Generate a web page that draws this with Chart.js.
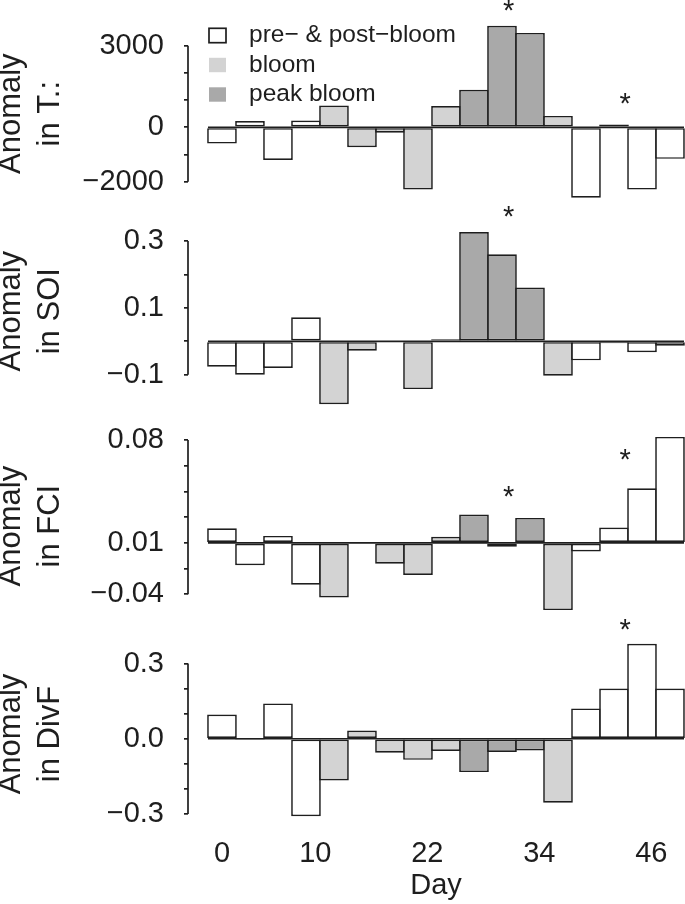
<!DOCTYPE html>
<html>
<head>
<meta charset="utf-8">
<script src="https://cdn.jsdelivr.net/npm/chart.js@4.4.1/dist/chart.umd.min.js"></script>
<style>
  body { margin: 0; background: #fff; }
  #wrap { position: relative; width: 685px; height: 904px; overflow: hidden; }
  canvas { position: absolute; left: 0; }
</style>
</head>
<body>
<div id="wrap">
  <canvas id="pT"></canvas>
  <canvas id="pSOI"></canvas>
  <canvas id="pFCI"></canvas>
  <canvas id="pDivF"></canvas>
</div>
<script>
// bars every 3 days, phase of each bar: 0 = pre/post, 1 = bloom, 2 = peak bloom
var days = [0, 3, 6, 9, 12, 15, 18, 21, 24, 27, 30, 33, 36, 39, 42, 45, 48];
var phase = [0, 0, 0, 0, 1, 1, 1, 1, 1, 2, 2, 2, 1, 0, 0, 0, 0];
var phaseNames = ['pre\u2212 & post\u2212bloom', 'bloom', 'peak bloom'];
var phaseColors = ['#ffffff', '#d3d3d3', '#a9a9a9'];

var tValues = [-600, 230, -1200, 250, 800, -730, -200, -2290, 780, 1380, 3730, 3470, 420, -2590, 100, -2290, -1160];
var soiValues = [-0.076, -0.100, -0.080, 0.072, -0.188, -0.028, 0, -0.143, 0.006, 0.327, 0.260, 0.161, -0.103, -0.057, -0.006, -0.033, -0.013];
var fciValues = [0.0114, -0.0174, 0.0054, -0.0326, -0.0425, 0, -0.0163, -0.0249, 0.0047, 0.0220, -0.0031, 0.0194, -0.0523, -0.0067, 0.0119, 0.0425, 0.0824];
var divfValues = [0.097, -0.005, 0.141, -0.309, -0.166, 0.033, -0.056, -0.084, -0.049, -0.133, -0.053, -0.047, -0.255, 0.121, 0.200, 0.379, 0.200];

// significance stars
var tStarDays = [30.7, 43.2];
var tStarValues = [4470, 1055];
var soiStarDays = [30.7];
var soiStarValues = [0.388];
var fciStarDays = [30.7, 43.2];
var fciStarValues = [0.0398, 0.0689];
var divfStarDays = [43.2];
var divfStarValues = [0.454];

// axis ticks
var dayTicks = [0, 10, 22, 34, 46];
var tTicks = [-2000, -1000, 0, 1000, 2000, 3000];
var tTickLabels = ['\u22122000', '', '0', '', '', '3000'];
var soiTicks = [-0.1, 0, 0.1, 0.2, 0.3];
var soiTickLabels = ['\u22120.1', '', '0.1', '', '0.3'];
var fciTicks = [-0.04, -0.02, 0, 0.02, 0.04, 0.06, 0.08];
var fciTickLabels = ['\u22120.04', '', '0.01', '', '', '', '0.08'];
var divfTicks = [-0.3, -0.2, -0.1, 0, 0.1, 0.2, 0.3];
var divfTickLabels = ['\u22120.3', '', '', '0.0', '', '', '0.3'];

var ink = '#1e1e1e';
Chart.defaults.font.family = "'Liberation Sans', Arial, Helvetica, sans-serif";
Chart.defaults.color = ink;

var halfBar = 1.5;

// zero line, short R-style axis line, stars
var extrasPlugin = {
  id: 'extras',
  afterDatasetsDraw: function (chart, args, opts) {
    var ctx = chart.ctx, x = chart.scales.x, y = chart.scales.y;
    ctx.save();
    ctx.strokeStyle = ink;
    ctx.lineWidth = 1.7;
    var y0 = y.getPixelForValue(0);
    ctx.beginPath();
    ctx.moveTo(x.getPixelForValue(days[0] - halfBar), y0);
    ctx.lineTo(x.getPixelForValue(days[days.length - 1] + halfBar), y0);
    ctx.stroke();

    var t = opts.ticks;
    ctx.beginPath();
    ctx.moveTo(chart.chartArea.left, y.getPixelForValue(t[0]));
    ctx.lineTo(chart.chartArea.left, y.getPixelForValue(t[t.length - 1]));
    ctx.stroke();

    ctx.fillStyle = ink;
    ctx.font = "29px 'Liberation Sans', Arial, sans-serif";
    ctx.textAlign = 'center';
    ctx.textBaseline = 'alphabetic';
    var m = ctx.measureText('*');
    var shift = (m.actualBoundingBoxAscent - m.actualBoundingBoxDescent) / 2;
    for (var i = 0; i < opts.starDays.length; i++) {
      ctx.fillText('*', x.getPixelForValue(opts.starDays[i]), y.getPixelForValue(opts.starValues[i]) + shift);
    }
    ctx.restore();
  }
};

var legendPlugin = {
  id: 'boxLegend',
  afterDraw: function (chart, args, opts) {
    if (!opts.show) return;
    var ctx = chart.ctx;
    ctx.save();
    ctx.font = "24.5px 'Liberation Sans', Arial, sans-serif";
    ctx.textBaseline = 'middle';
    ctx.textAlign = 'left';
    for (var i = 0; i < phaseNames.length; i++) {
      var cy = 35.5 + i * 29.5;
      ctx.fillStyle = phaseColors[i];
      ctx.fillRect(209, cy - 7.2, 17, 14.4);
      if (i === 0) {
        ctx.strokeStyle = ink;
        ctx.lineWidth = 1.7;
        ctx.strokeRect(209, cy - 7.2, 17, 14.4);
      }
      ctx.fillStyle = ink;
      ctx.fillText(phaseNames[i], 249, cy);
    }
    ctx.restore();
  }
};

function pickLabel(ticks, labels, v) {
  for (var i = 0; i < ticks.length; i++) {
    if (Math.abs(ticks[i] - v) < 1e-9) return labels[i];
  }
  return '';
}

function makePanel(id, p) {
  var cv = document.getElementById(id);
  cv.width = 685;
  cv.height = p.height;
  cv.style.top = p.top + 'px';

  new Chart(cv, {
    type: 'bar',
    data: {
      datasets: [{
        data: p.values.map(function (v, i) { return { x: days[i], y: v }; }),
        backgroundColor: phase.map(function (k) { return phaseColors[k]; }),
        borderColor: ink,
        borderWidth: 1.7,
        borderSkipped: false,
        barPercentage: 1.06,
        categoryPercentage: 1,
        clip: false
      }]
    },
    options: {
      responsive: false,
      animation: false,
      events: [],
      layout: { padding: { top: p.padTop, bottom: p.padBottom, left: 0, right: 1 } },
      plugins: {
        legend: { display: false },
        tooltip: { enabled: false },
        extras: { ticks: p.ticks, starDays: p.starDays, starValues: p.starValues },
        boxLegend: { show: !!p.legend }
      },
      scales: {
        x: {
          type: 'linear',
          min: -3.64,
          max: 49.5,
          offset: false,
          display: !!p.showX,
          grid: { display: false, offset: false },
          border: { display: false },
          afterBuildTicks: function (s) { s.ticks = dayTicks.map(function (v) { return { value: v }; }); },
          afterFit: function (s) {
            s.height = p.showX ? 90 : 0;
            s.paddingLeft = 0;
            s.paddingRight = 0;
          },
          ticks: {
            autoSkip: false,
            maxRotation: 0,
            padding: 14.6,
            font: { size: 29 },
            callback: function (v) { return String(v); }
          },
          title: {
            display: true,
            text: 'Day',
            font: { size: 29 },
            padding: { top: 0, bottom: 0.6 }
          }
        },
        y: {
          min: p.min,
          max: p.max,
          afterBuildTicks: function (s) { s.ticks = p.ticks.map(function (v) { return { value: v }; }); },
          afterFit: function (s) {
            s.width = 188;
            s.paddingTop = 0;
            s.paddingBottom = 0;
          },
          grid: { drawOnChartArea: false, drawTicks: true, tickLength: 4, color: ink, lineWidth: 1.7 },
          border: { display: false },
          ticks: {
            autoSkip: false,
            padding: 20,
            font: { size: 29 },
            callback: function (v) { return pickLabel(p.ticks, p.tickLabels, v); }
          },
          title: {
            display: true,
            text: ['Anomaly', p.label],
            font: { size: 31, lineHeight: 1.258 },
            padding: { top: -8.2, bottom: 0 }
          }
        }
      }
    },
    plugins: [extrasPlugin, legendPlugin]
  });
}

makePanel('pT', {
  top: 0, height: 205, padTop: 45.7, padBottom: 23.3,
  values: tValues, min: -2000, max: 3000, ticks: tTicks, tickLabels: tTickLabels,
  starDays: tStarDays, starValues: tStarValues, label: 'in T.:', legend: true
});
makePanel('pSOI', {
  top: 205, height: 210, padTop: 36, padBottom: 33.6,
  values: soiValues, min: -0.12, max: 0.3, ticks: soiTicks, tickLabels: soiTickLabels,
  starDays: soiStarDays, starValues: soiStarValues, label: 'in SOI'
});
makePanel('pFCI', {
  top: 415, height: 205, padTop: 25, padBottom: 7.7,
  values: fciValues, min: -0.054, max: 0.08, ticks: fciTicks, tickLabels: fciTickLabels,
  starDays: fciStarDays, starValues: fciStarValues, label: 'in FCI'
});
makePanel('pDivF', {
  top: 612, height: 292, padTop: 42, padBottom: 0,
  values: divfValues, min: -0.3, max: 0.338, ticks: divfTicks, tickLabels: divfTickLabels,
  starDays: divfStarDays, starValues: divfStarValues, label: 'in DivF', showX: true
});
</script>
</body>
</html>
